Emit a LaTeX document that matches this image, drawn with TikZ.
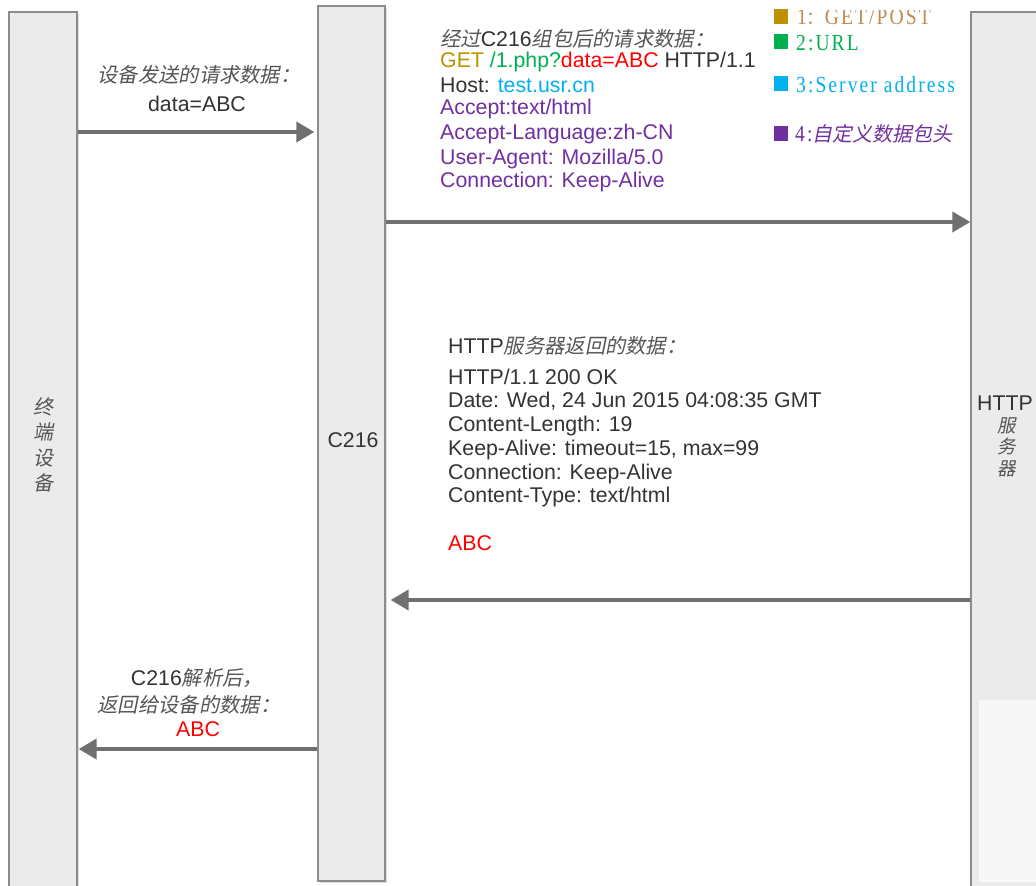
\documentclass[tikz,border=0pt]{standalone}
\usepackage{fontspec}
\setmainfont{Liberation Sans}
\newfontfamily\cjk[FakeSlant=0.2]{Noto Sans CJK SC}
\newfontfamily\cjkup{Noto Sans CJK SC}
\newfontfamily\legfont[FakeStretch=0.85,LetterSpace=9]{Liberation Serif}
\usetikzlibrary{arrows.meta,shadows}
\definecolor{boxfill}{HTML}{EBEBEB}
\definecolor{boxline}{HTML}{8C8C8C}
\definecolor{arrowgray}{HTML}{707070}
\definecolor{txtdark}{HTML}{333333}
\definecolor{zhgray}{HTML}{555555}
\definecolor{cget}{HTML}{BF9000}
\definecolor{cgetl}{HTML}{C08A50}
\definecolor{curl}{HTML}{00B050}
\definecolor{chost}{HTML}{00B0F0}
\definecolor{cpur}{HTML}{7030A0}
\definecolor{cred}{HTML}{FF0000}
\newcommand\zhit[1]{{\cjk\fontsize{20.3}{24}\selectfont\color{zhgray}#1}}
\tikzset{
  lane/.style={draw=boxline, line width=1.3pt, fill=boxfill, inner sep=0pt,
    drop shadow={shadow xshift=2pt,shadow yshift=-2pt,opacity=0.25}},
  txt/.style={inner sep=0pt, text=txtdark, font=\fontsize{21.3}{24}\selectfont},
  vlab/.style={inner sep=0pt, text=zhgray, align=center},
  arr/.style={draw=arrowgray, line width=4pt, -{Triangle[length=18pt,width=20pt]}},
  legsq/.style={inner sep=0pt, minimum width=14pt, minimum height=15pt},
  legtxt/.style={inner sep=0pt, anchor=base west, font=\legfont\fontsize{23}{23}\selectfont}
}
\begin{document}
\begin{tikzpicture}[x=1pt,y=-1pt]
\useasboundingbox (0,0) rectangle (1036,886);
\fill[white] (0,0) rectangle (1036,886);
% lanes
\node[lane, minimum width=68pt, minimum height=880pt] (dev) at (43,452) {};
\node[lane, minimum width=67pt, minimum height=875pt] (c216) at (351.5,443.5) {};
\node[lane, minimum width=74pt, minimum height=880pt] (srv) at (1008,452) {};
\node[fill=white!97!black, inner sep=0pt, minimum width=60pt, minimum height=182pt, anchor=north west] (srvpad) at (979,700) {};
% lane labels
\node[vlab, font=\cjk\fontsize{20}{25.3}\selectfont] (devlab) at (43,445) {终\\端\\设\\备};
\node[txt] (c216lab) at (353,440) {C216};
\node[txt, anchor=base] (srvlab) at (1005,410) {HTTP};
\node[vlab, font=\cjk\fontsize{18.5}{21.5}\selectfont] (srvzh) at (1007,447) {服\\务\\器};
% connectors
\coordinate (y1) at (0,132);
\coordinate (y2) at (0,222);
\coordinate (y3) at (0,600);
\coordinate (y4) at (0,749);
\draw[arr] (dev.east |- y1) -- ([xshift=-3pt]c216.west |- y1);
\draw[arr] (c216.east |- y2) -- (srv.west |- y2);
\draw[arr] (srv.west |- y3) -- ([xshift=5pt]c216.east |- y3);
\draw[arr] (c216.west |- y4) -- ([xshift=1pt]dev.east |- y4);
% request from device
\node[txt, anchor=base] (r0) at (199,82) {\zhit{设备发送的请求数据：}};
\node[txt, anchor=base] (r1) at (197,111) {data=ABC};
% request from C216
\node[txt, anchor=base west] (q0) at (440,46) {\zhit{经过}C216\zhit{组包后的请求数据：}};
\node[txt, anchor=base west] (q1) at (440,67) {\textcolor{cget}{GET} \textcolor{curl}{/1.php?}\textcolor{cred}{data=ABC} HTTP/1.1};
\node[txt, anchor=base west] (q2) at (440,92) {Host: \textcolor{chost}{test.usr.cn}};
\node[txt, anchor=base west, text=cpur] (q3) at (440,114) {Accept:text/html};
\node[txt, anchor=base west, text=cpur] (q4) at (440,139) {Accept-Language:zh-CN};
\node[txt, anchor=base west, text=cpur] (q5) at (440,164) {User-Agent: Mozilla/5.0};
\node[txt, anchor=base west, text=cpur] (q6) at (440,187) {Connection: Keep-Alive};
% legend
\node[legsq, fill=cget] (k1) at (781,16.5) {};
\node[legsq, fill=curl] (k2) at (781,41.5) {};
\node[legsq, fill=chost] (k3) at (781,83.5) {};
\node[legsq, fill=cpur] (k4) at (781,133) {};
\begin{scope}
\clip (790,10) rectangle (1000,40);
\node[legtxt, text=cgetl] (l1) at (797,24) {1{\cjkup\fontsize{18}{18}\selectfont ：}GET/POST};
\end{scope}
\node[legtxt, text=curl] (l2) at (796,50) {2:URL};
\node[legtxt, text=chost] (l3) at (796,92) {3:Server address};
\node[legtxt, text=cpur] (l4) at (795,141) {4:{\cjk\fontsize{20}{20}\selectfont 自定义数据包头}};
% response from server
\node[txt, anchor=base west] (s0) at (448,353.5) {HTTP\zhit{服务器返回的数据：}};
\node[txt, anchor=base west] (s1) at (448,384.5) {HTTP/1.1 200 OK};
\node[txt, anchor=base west] (s2) at (448,407.5) {Date: Wed, 24 Jun 2015 04:08:35 GMT};
\node[txt, anchor=base west] (s3) at (448,431.5) {Content-Length: 19};
\node[txt, anchor=base west] (s4) at (448,455.5) {Keep-Alive: timeout=15, max=99};
\node[txt, anchor=base west] (s5) at (448,479.5) {Connection: Keep-Alive};
\node[txt, anchor=base west] (s6) at (448,502.5) {Content-Type: text/html};
\node[txt, anchor=base west, text=cred] (s7) at (448,550.5) {ABC};
% reply to device
\node[txt, anchor=base] (b0) at (197,685) {C216\zhit{解析后，}};
\node[txt, anchor=base] (b1) at (189,712) {\zhit{返回给设备的数据：}};
\node[txt, anchor=base, text=cred] (b2) at (198,736) {ABC};
\end{tikzpicture}
\end{document}
